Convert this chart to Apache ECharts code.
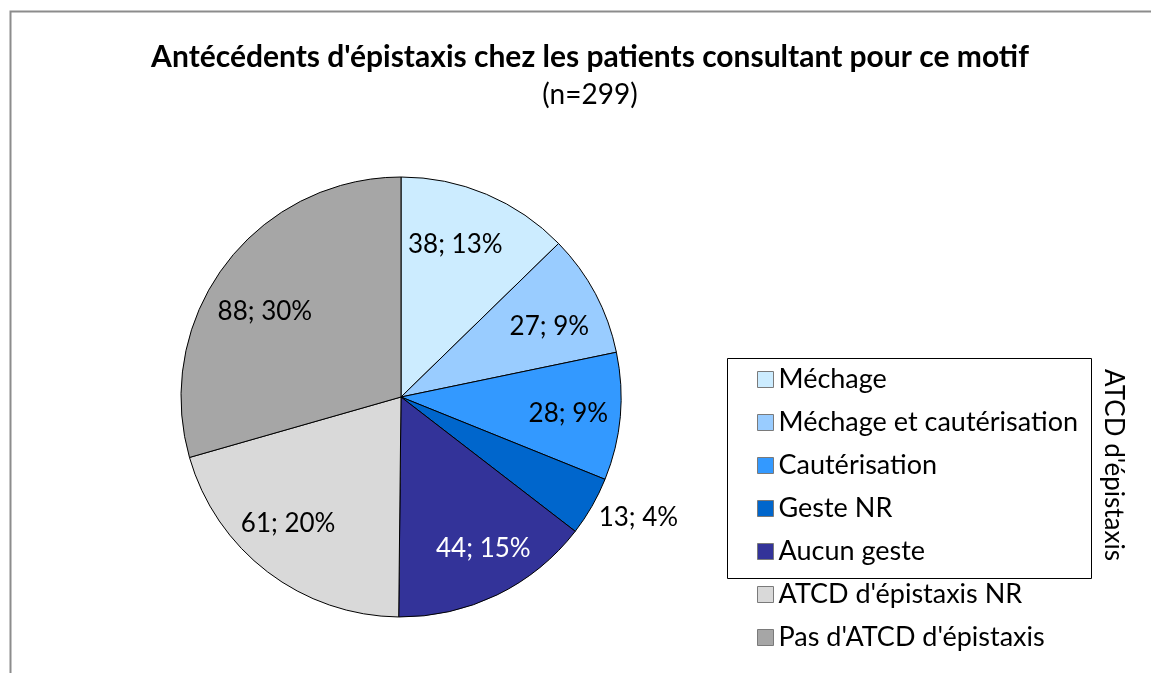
<!DOCTYPE html>
<html>
<head>
<meta charset="utf-8">
<script src="https://cdn.jsdelivr.net/npm/echarts@6/dist/echarts.min.js"></script>
<style>
html,body{margin:0;padding:0;background:#fff;}
#chart{width:1151px;height:673px;}
</style>
</head>
<body>
<div id="chart"></div>
<script>
const categories = ["Méchage", "Méchage et cautérisation", "Cautérisation", "Geste NR", "Aucun geste", "ATCD d'épistaxis NR", "Pas d'ATCD d'épistaxis"];
const values = [38, 27, 28, 13, 44, 61, 88];
const colors = ["#CCECFF", "#99CCFF", "#3399FF", "#0066CC", "#333399", "#D9D9D9", "#A6A6A6"];
const titleText = "Antécédents d'épistaxis chez les patients consultant pour ce motif";
const subtitleText = "(n=299)";
const groupLabel = "ATCD d'épistaxis";

const FONT = "Lato";
// small label nudges (styling only), mimicking the spreadsheet's "best fit" label placement
const labelNudge = {
  "Méchage": [-11, 2],
  "Méchage et cautérisation": [0, 8],
  "Cautérisation": [0, 2],
  "Aucun geste": [9, 0],
  "ATCD d'épistaxis NR": [-11, -7],
  "Pas d'ATCD d'épistaxis": [-2, 16]
};

const pieData = categories.map((c, i) => ({ name: c, value: values[i], itemStyle: { color: colors[i] } }));
const labelData = categories.map((c, i) => {
  const d = { name: c, value: values[i], label: { offset: labelNudge[c] || [0, 0] } };
  if (c === "Aucun geste") d.label.color = "#fff";
  if (c === "Geste NR") {
    d.label = { position: "outside", color: "#000", offset: [0, 10] };
    d.labelLine = { show: false, length: 2, length2: 0 };
  }
  return d;
});

const chart = echarts.init(document.getElementById('chart'), null, { renderer: 'canvas' });
chart.setOption({
  animation: false,
  backgroundColor: '#fff',
  title: {
    text: titleText,
    subtext: subtitleText,
    left: 585,
    top: 37,
    textAlign: 'center',
    itemGap: 9,
    textStyle: { fontFamily: FONT, fontWeight: 'bold', fontSize: 30, color: '#000' },
    subtextStyle: { fontFamily: FONT, fontSize: 28, color: '#000' }
  },
  legend: {
    orient: 'vertical',
    left: 752,
    top: 361,
    itemWidth: 16,
    itemHeight: 16,
    itemGap: 16,
    icon: 'rect',
    selectedMode: false,
    data: categories,
    itemStyle: { borderColor: '#7a7a7a', borderWidth: 1 },
    textStyle: { fontFamily: FONT, fontSize: 27, color: '#000' }
  },
  graphic: [
    { type: 'rect', left: 8, top: 9, shape: { width: 1160, height: 700 }, style: { fill: 'none', stroke: '#8c8c8c', lineWidth: 2 }, silent: true },
    { type: 'rect', left: 725, top: 356, shape: { width: 364, height: 220 }, style: { fill: 'none', stroke: '#000', lineWidth: 1 }, silent: true },
    { type: 'text', x: 1113, y: 465, rotation: -Math.PI / 2, style: { text: groupLabel, fontFamily: FONT, fontSize: 26, fill: '#000', align: 'center', verticalAlign: 'middle' }, silent: true }
  ],
  series: [
    {
      type: 'pie',
      center: [401, 397],
      radius: [0, 220],
      startAngle: 90,
      clockwise: true,
      silent: true,
      label: { show: false },
      labelLine: { show: false },
      itemStyle: { borderColor: '#000', borderWidth: 1 },
      data: pieData
    },
    {
      type: 'pie',
      center: [401, 397],
      radius: [110, 220],
      startAngle: 90,
      clockwise: true,
      silent: true,
      avoidLabelOverlap: false,
      percentPrecision: 0,
      itemStyle: { color: 'rgba(0,0,0,0)', borderWidth: 0 },
      label: {
        show: true,
        position: 'inside',
        fontFamily: FONT,
        fontSize: 26,
        color: '#000',
        formatter: p => p.value + '; ' + p.percent + '%'
      },
      labelLine: { show: false },
      data: labelData
    }
  ]
});
</script>
</body>
</html>
